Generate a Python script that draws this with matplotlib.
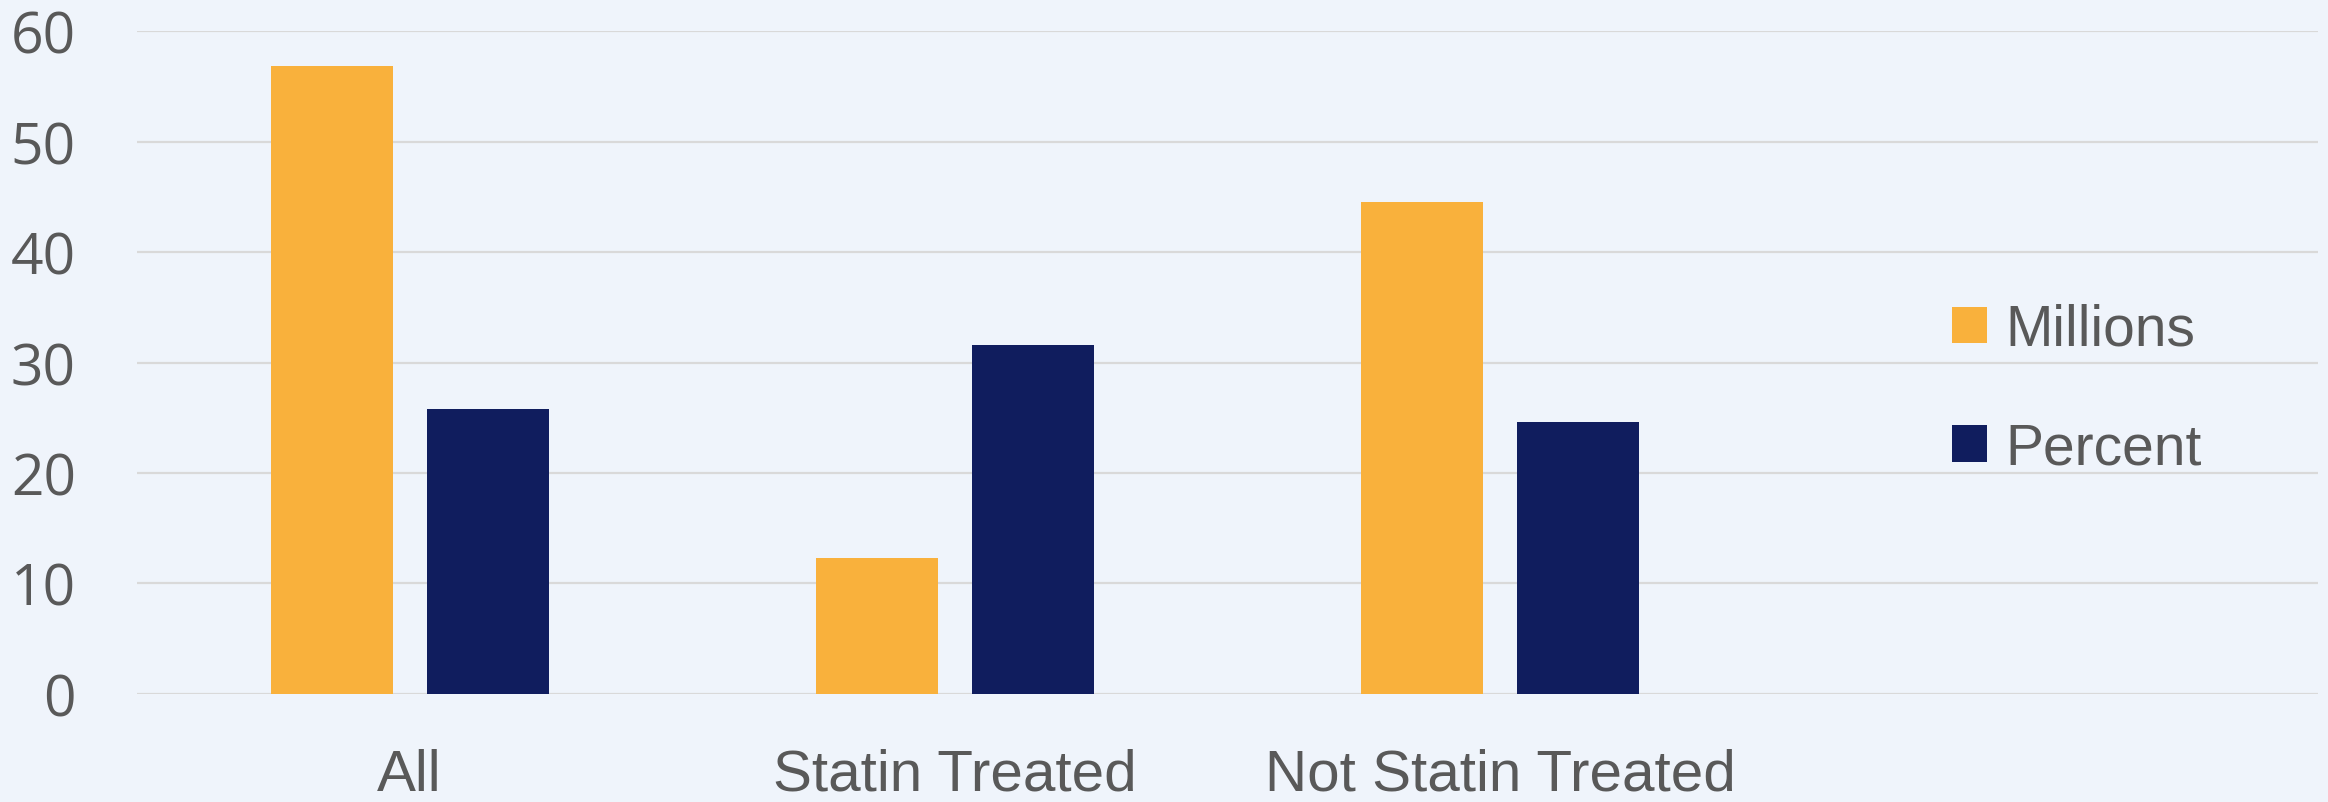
import numpy as np
import matplotlib
matplotlib.use("Agg")
import matplotlib.pyplot as plt

# ── data ──────────────────────────────────────────────────────────────────────
categories = ["All", "Statin Treated", "Not Statin Treated"]
millions = [56.9, 12.3, 44.5]
percent = [25.8, 31.6, 24.6]
yticks = [0, 10, 20, 30, 40, 50, 60]

# ── style ─────────────────────────────────────────────────────────────────────
bg = "#EFF4FB"
orange = "#F9B13C"
navy = "#101D5E"
txt = "#595959"
grid = "#D9D9D9"

W, H = 2328, 803
fig = plt.figure(figsize=(W / 100, H / 100), dpi=100, facecolor=bg)
ax = fig.add_axes([137 / W, 1 - 694.8 / H, (2318 - 137) / W, (694.8 - 32.3) / H])
ax.set_facecolor(bg)

x = np.arange(len(categories))
bw = 0.224
off = 0.143
ax.bar(x - off, millions, bw, color=orange, label="Millions", zorder=3)
ax.bar(x + off, percent, bw, color=navy, label="Percent", zorder=3)

ax.set_xlim(-0.5, 3.5)
ax.set_ylim(0, 60)
ax.set_yticks(yticks)
ax.yaxis.grid(True, color=grid, linewidth=1.6, zorder=0)
ax.set_axisbelow(True)
for s in ax.spines.values():
    s.set_visible(False)

ax.tick_params(axis="y", length=0, pad=44, labelsize=41, labelcolor=txt)
for t in ax.get_yticklabels():
    t.set_fontfamily(["Open Sans", "DejaVu Sans"])

# category labels sit near the bottom edge, as in the reference
ax.set_xticks(x)
ax.set_xticklabels(categories, fontsize=42, color=txt,
                   fontfamily=["Liberation Sans", "DejaVu Sans"])
ax.tick_params(axis="x", length=0, pad=39)

leg = ax.legend(loc="upper left", bbox_to_anchor=((1952 - 137) / (2318 - 137), 1 - (304 - 32.3) / 662.5),
                frameon=False, handlelength=0.62, handleheight=0.62,
                handletextpad=0.32, labelspacing=1.13, borderpad=0, borderaxespad=0,
                prop={"family": ["Liberation Sans", "DejaVu Sans"], "size": 41})
for t in leg.get_texts():
    t.set_color(txt)

fig.savefig("out.png", dpi=100, facecolor=bg)
